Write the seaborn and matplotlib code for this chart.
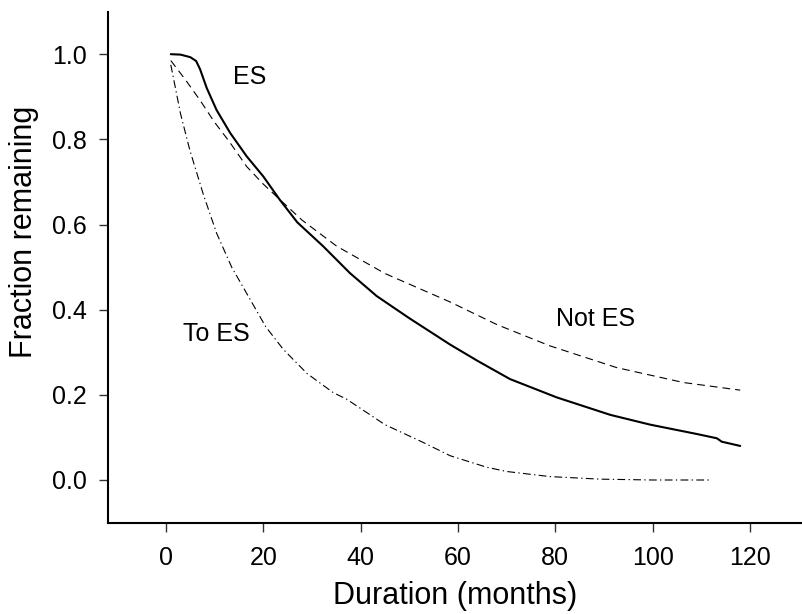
import pandas as pd
import numpy as np
import matplotlib
matplotlib.use('Agg')
import matplotlib.pyplot as plt
import seaborn as sns

## values
es_months = [1, 3, 5, 6.2, 7, 8.4, 10.4, 13.2, 16.6, 20, 23.4, 27, 32.3, 37.8, 43.3,
             50, 58.4, 64, 70.7, 80.3, 91.3, 99.5, 109.1, 113.2, 114.2, 118]
es_frac = [1.0, 0.999, 0.993, 0.984, 0.965, 0.92, 0.869, 0.815, 0.76, 0.713, 0.658,
           0.605, 0.549, 0.486, 0.432, 0.38, 0.318, 0.28, 0.237, 0.194, 0.153, 0.13,
           0.108, 0.098, 0.09, 0.08]

not_es_months = [1, 4, 7, 10, 13, 16.6, 20, 22.7, 28, 35.1, 45, 58.4, 68, 78.9,
                 92.6, 106.3, 118]
not_es_frac = [0.985, 0.94, 0.892, 0.84, 0.795, 0.736, 0.695, 0.666, 0.61, 0.549,
               0.485, 0.418, 0.365, 0.315, 0.264, 0.229, 0.211]

to_es_months = [1, 3, 4.9, 7.7, 10.4, 13.5, 17.3, 20.5, 24.1, 29, 34.4, 37.1, 45,
                52.9, 58.4, 65.9, 70, 78.9, 89.2, 100, 112.2]
to_es_frac = [0.975, 0.86, 0.775, 0.67, 0.58, 0.5, 0.424, 0.36, 0.307, 0.25, 0.205,
              0.19, 0.13, 0.088, 0.057, 0.03, 0.02, 0.008, 0.002, 0.0, 0.0]

x_ticks = [0, 20, 40, 60, 80, 100, 120]
y_ticks = [0.0, 0.2, 0.4, 0.6, 0.8, 1.0]

sns.set_style('ticks')
plt.rcParams['font.family'] = ['Liberation Sans', 'DejaVu Sans']
plt.rcParams['text.color'] = 'black'
plt.rcParams['axes.labelcolor'] = 'black'
plt.rcParams['xtick.color'] = 'black'
plt.rcParams['ytick.color'] = 'black'

fig = plt.figure(figsize=(8.02, 6.14), dpi=100)
ax = fig.add_axes([0.1347, 0.1482, 0.8653, 0.8322])

## one curve per group
sns.lineplot(x=es_months, y=es_frac, ax=ax, color='black', linewidth=1.5,
             estimator=None, sort=False)
sns.lineplot(x=not_es_months, y=not_es_frac, ax=ax, color='black', linewidth=0.8,
             linestyle=(0, (7, 4.5)), estimator=None, sort=False)
sns.lineplot(x=to_es_months, y=to_es_frac, ax=ax, color='black', linewidth=0.8,
             linestyle=(0, (7, 3, 1.2, 3)), estimator=None, sort=False)

## curve labels
ax.text(17.3, 0.946, 'ES', fontsize=18, ha='center', va='center')
ax.text(88.2, 0.377, 'Not ES', fontsize=18, ha='center', va='center')
ax.text(10.3, 0.344, 'To ES', fontsize=18, ha='center', va='center')

ax.set_xlim(-11.9, 130.7)
ax.set_ylim(-0.101, 1.099)
ax.set_xticks(x_ticks)
ax.set_yticks(y_ticks)
ax.set_yticklabels([f'{v:.1f}' for v in y_ticks])

sns.despine(ax=ax)
for side in ['left', 'bottom']:
    ax.spines[side].set_linewidth(1.5)
    ax.spines[side].set_color('black')

ax.tick_params(axis='both', labelsize=18, length=6.5, width=1, color='#333333',
               labelcolor='black')
ax.tick_params(axis='x', pad=10)
ax.tick_params(axis='y', pad=8.5)

ax.set_xlabel('Duration (months)', fontsize=22, color='black')
ax.set_ylabel('Fraction remaining', fontsize=22, color='black')
ax.xaxis.set_label_coords(0.5, -0.113)
ax.yaxis.set_label_coords(-0.099, 0.57)

fig.savefig('out.png', dpi=100)
